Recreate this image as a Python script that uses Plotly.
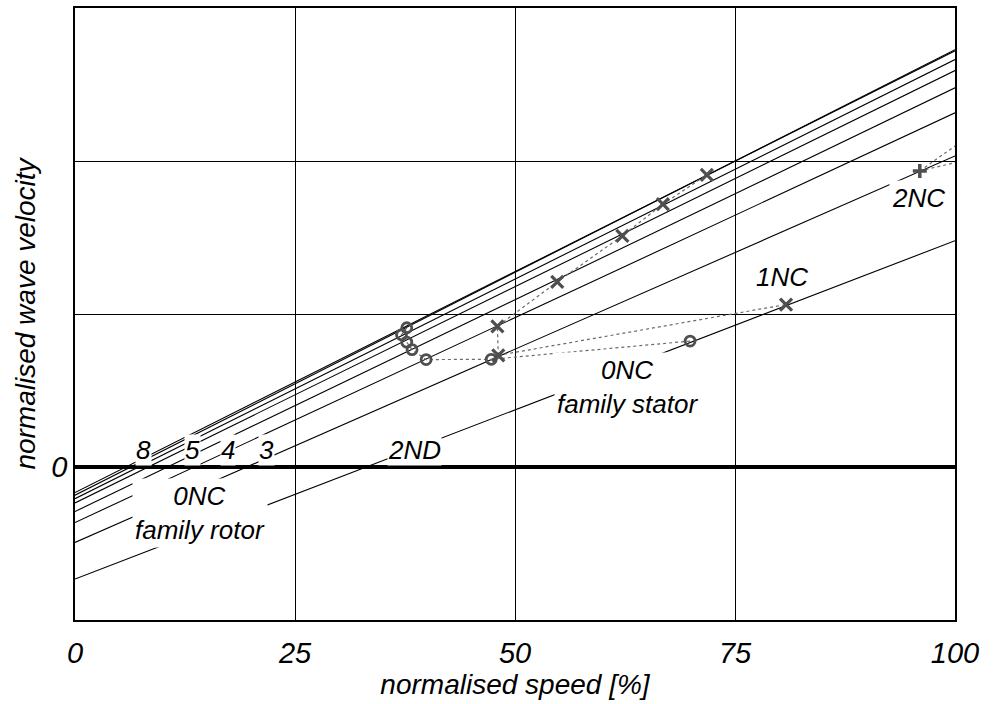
import plotly.graph_objects as go

# Family lines: wave velocity at 0 % and at 100 % speed
line_names = ["8", "7", "6", "5", "4", "3", "2NC", "2ND"]
speed_ends = [0, 100]
vel_at_0 = [-0.167, -0.184, -0.207, -0.235, -0.291, -0.363, -0.493, -0.732]
vel_at_100 = [2.720, 2.728, 2.663, 2.591, 2.478, 2.315, 2.033, 1.479]

# Crossing points (x markers) of the stator family with the rotor lines
cross_speed = [48.1, 48.0, 54.8, 62.2, 66.8, 71.8]
cross_vel = [0.730, 0.919, 1.210, 1.511, 1.718, 1.909]

# Crossing points (o markers) of the rotor family
circle_speed = [37.7, 37.1, 37.7, 38.3, 39.9, 47.3, 69.9]
circle_vel = [0.910, 0.864, 0.816, 0.767, 0.702, 0.704, 0.823]

# 1NC branch
nc1_speed = [48.1, 80.8]
nc1_vel = [0.730, 1.062]

# 2NC point and its two branches leaving the range
nc2_speed = [96.0]
nc2_vel = [1.935]
nc2_branch_speed = [[96.0, 100.0], [96.0, 100.0]]
nc2_branch_vel = [[1.935, 2.098], [1.935, 1.989]]

x_ticks = [0, 25, 50, 75, 100]
y_ticks = [-1, 0, 1, 2, 3]
y_ticktext = ["", "0", "", "", ""]

# Text labels: (text, speed, velocity)
labels = [
    ("0NC<br>family rotor", 14.2, -0.300),
    ("0NC<br>family stator", 62.8, 0.525),
    ("1NC", 80.3, 1.240),
    ("2NC", 95.8, 1.761),
]
# labels sitting just above the zero line
zero_labels = [("8", 7.76), ("5", 13.4), ("4", 17.4), ("3", 21.75), ("2ND", 38.6)]

FONT = "Liberation Sans, Arial, sans-serif"
MARK = "#4f4f4f"
DOT = "#6a6a6a"

fig = go.Figure()

for name, v0, v1 in zip(line_names, vel_at_0, vel_at_100):
    fig.add_trace(go.Scatter(
        x=speed_ends, y=[v0, v1], mode="lines", name=name,
        line=dict(color="black", width=1.1), hoverinfo="skip",
    ))

# dotted connections
fig.add_trace(go.Scatter(x=cross_speed, y=cross_vel, mode="lines",
                         line=dict(color=DOT, width=1.2, dash="dot")))
fig.add_trace(go.Scatter(x=circle_speed, y=circle_vel, mode="lines",
                         line=dict(color=DOT, width=1.2, dash="dot")))
fig.add_trace(go.Scatter(x=nc1_speed, y=nc1_vel, mode="lines",
                         line=dict(color=DOT, width=1.2, dash="dot")))
for bx, by in zip(nc2_branch_speed, nc2_branch_vel):
    fig.add_trace(go.Scatter(x=bx, y=by, mode="lines",
                             line=dict(color=DOT, width=1.2, dash="dot")))

# markers
fig.add_trace(go.Scatter(
    x=circle_speed, y=circle_vel, mode="markers",
    marker=dict(symbol="circle-open", size=10, color=MARK,
                line=dict(width=2.8, color=MARK)),
))
fig.add_trace(go.Scatter(
    x=cross_speed + nc1_speed[1:], y=cross_vel + nc1_vel[1:], mode="markers",
    marker=dict(symbol="x-thin", size=12, color=MARK,
                line=dict(width=3.2, color=MARK)),
))
fig.add_trace(go.Scatter(
    x=nc2_speed, y=nc2_vel, mode="markers",
    marker=dict(symbol="cross-thin", size=10, color=MARK,
                line=dict(width=3.5, color=MARK)),
))

annotations = []
for text, sx, vy in labels:
    annotations.append(dict(
        x=sx, y=vy, xref="x", yref="y", text=text, showarrow=False,
        font=dict(family=FONT, size=26, color="black", style="italic"),
        bgcolor="white", borderpad=2, align="center",
    ))
for text, sx in zero_labels:
    annotations.append(dict(
        x=sx, y=0, xref="x", yref="y", text=text, showarrow=False,
        yanchor="bottom", yshift=1,
        font=dict(family=FONT, size=26, color="black", style="italic"),
        bgcolor="white", borderpad=0,
    ))

fig.update_layout(
    width=993, height=704,
    margin=dict(l=75, r=38, t=6, b=84),
    paper_bgcolor="white", plot_bgcolor="white",
    showlegend=False,
    font=dict(family=FONT, size=28, color="black", style="italic"),
    annotations=annotations,
    xaxis=dict(
        range=[0, 100], tickvals=x_ticks, showgrid=True, gridcolor="black",
        gridwidth=1, showline=True, linecolor="black", linewidth=1.5,
        mirror=True, zeroline=False, ticks="", ticklabelstandoff=6,
        tickfont=dict(family=FONT, size=29, style="italic"),
        title=dict(text="normalised speed [%]", standoff=2,
                   font=dict(family=FONT, size=28, style="italic")),
    ),
    yaxis=dict(
        range=[-1, 3], tickvals=y_ticks, ticktext=y_ticktext, showgrid=True,
        gridcolor="black", gridwidth=1, showline=True, linecolor="black",
        linewidth=1.5, mirror=True, zeroline=True, zerolinecolor="black",
        zerolinewidth=4, ticks="", ticklabelstandoff=0,
        tickfont=dict(family=FONT, size=29, style="italic"),
        title=dict(text="normalised wave velocity", standoff=8,
                   font=dict(family=FONT, size=28, style="italic")),
    ),
)

fig.write_html("out.html")
